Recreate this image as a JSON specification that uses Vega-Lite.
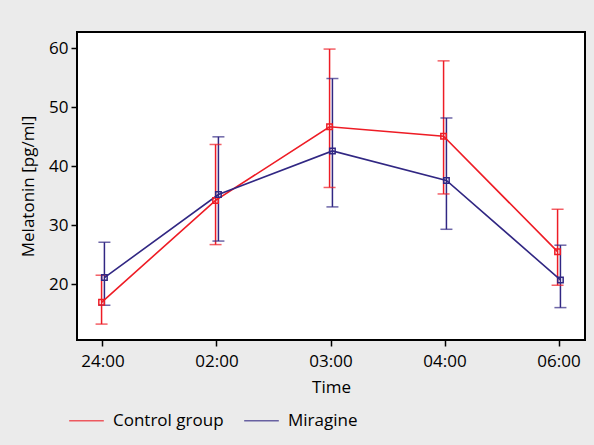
{
  "$schema": "https://vega.github.io/schema/vega-lite/v6.json",
  "width": 508,
  "height": 308,
  "autosize": {"type": "none"},
  "padding": {"left": 77, "top": 32, "right": 9, "bottom": 105},
  "background": "#ebebeb",
  "config": {
    "font": "Open Sans",
    "view": {"stroke": "black", "strokeWidth": 2, "fill": "white"},
    "axis": {
      "grid": false, "domain": false, "tickColor": "black", "tickSize": 6, "tickWidth": 1.5,
      "labelColor": "black", "labelFontSize": 17, "titleFontSize": 17, "titleColor": "black",
      "titleFontWeight": "normal", "labelFont": "Open Sans", "titleFont": "Open Sans"
    },
    "legend": {"labelFontSize": 17, "labelColor": "black", "labelFont": "Open Sans"}
  },
  "data": {
    "values": [
      {"time": "24:00", "group": "Control group", "mean": 16.9, "lo": 13.2, "hi": 21.5},
      {"time": "02:00", "group": "Control group", "mean": 34.2, "lo": 26.7, "hi": 43.7},
      {"time": "03:00", "group": "Control group", "mean": 46.7, "lo": 36.4, "hi": 59.9},
      {"time": "04:00", "group": "Control group", "mean": 45.1, "lo": 35.3, "hi": 57.9},
      {"time": "06:00", "group": "Control group", "mean": 25.5, "lo": 19.8, "hi": 32.7},
      {"time": "24:00", "group": "Miragine", "mean": 21.1, "lo": 16.4, "hi": 27.1},
      {"time": "02:00", "group": "Miragine", "mean": 35.2, "lo": 27.3, "hi": 45.0},
      {"time": "03:00", "group": "Miragine", "mean": 42.6, "lo": 33.1, "hi": 54.9},
      {"time": "04:00", "group": "Miragine", "mean": 37.6, "lo": 29.3, "hi": 48.2},
      {"time": "06:00", "group": "Miragine", "mean": 20.7, "lo": 16.0, "hi": 26.6}
    ]
  },
  "encoding": {
    "x": {
      "field": "time", "type": "ordinal", "sort": ["24:00", "02:00", "03:00", "04:00", "06:00"],
      "scale": {"paddingInner": 0.95, "paddingOuter": 0.203},
      "axis": {"title": "Time", "labelAngle": 0, "labelPadding": 7, "titlePadding": 10}
    },
    "xOffset": {"field": "group", "type": "nominal", "sort": ["Control group", "Miragine"]},
    "color": {
      "field": "group", "type": "nominal",
      "scale": {"domain": ["Control group", "Miragine"], "range": ["#ee1c25", "#312783"]},
      "legend": {
        "title": null, "orient": "none", "legendX": -9, "legendY": 370, "direction": "horizontal",
        "symbolType": "stroke", "symbolSize": 1200, "symbolStrokeWidth": 1.5,
        "labelOffset": 8, "columnPadding": 17
      }
    }
  },
  "layer": [
    {
      "mark": {"type": "rule", "strokeWidth": 1.5},
      "encoding": {
        "y": {"field": "lo", "type": "quantitative"},
        "y2": {"field": "hi"}
      }
    },
    {
      "mark": {"type": "tick", "size": 12, "thickness": 1.5},
      "encoding": {
        "y": {"field": "lo", "type": "quantitative"}
      }
    },
    {
      "mark": {"type": "tick", "size": 12, "thickness": 1.5},
      "encoding": {
        "y": {"field": "hi", "type": "quantitative"}
      }
    },
    {
      "mark": {"type": "line", "strokeWidth": 1.6},
      "encoding": {
        "y": {
          "field": "mean", "type": "quantitative",
          "scale": {"domain": [10.5, 62.8], "nice": false, "zero": false},
          "axis": {"title": "Melatonin [pg/ml]", "values": [20, 30, 40, 50, 60], "labelPadding": 3, "titlePadding": 11}
        }
      }
    },
    {
      "mark": {"type": "point", "shape": "square", "filled": false, "size": 30, "strokeWidth": 1.5, "opacity": 1},
      "encoding": {
        "y": {"field": "mean", "type": "quantitative"}
      }
    }
  ]
}
